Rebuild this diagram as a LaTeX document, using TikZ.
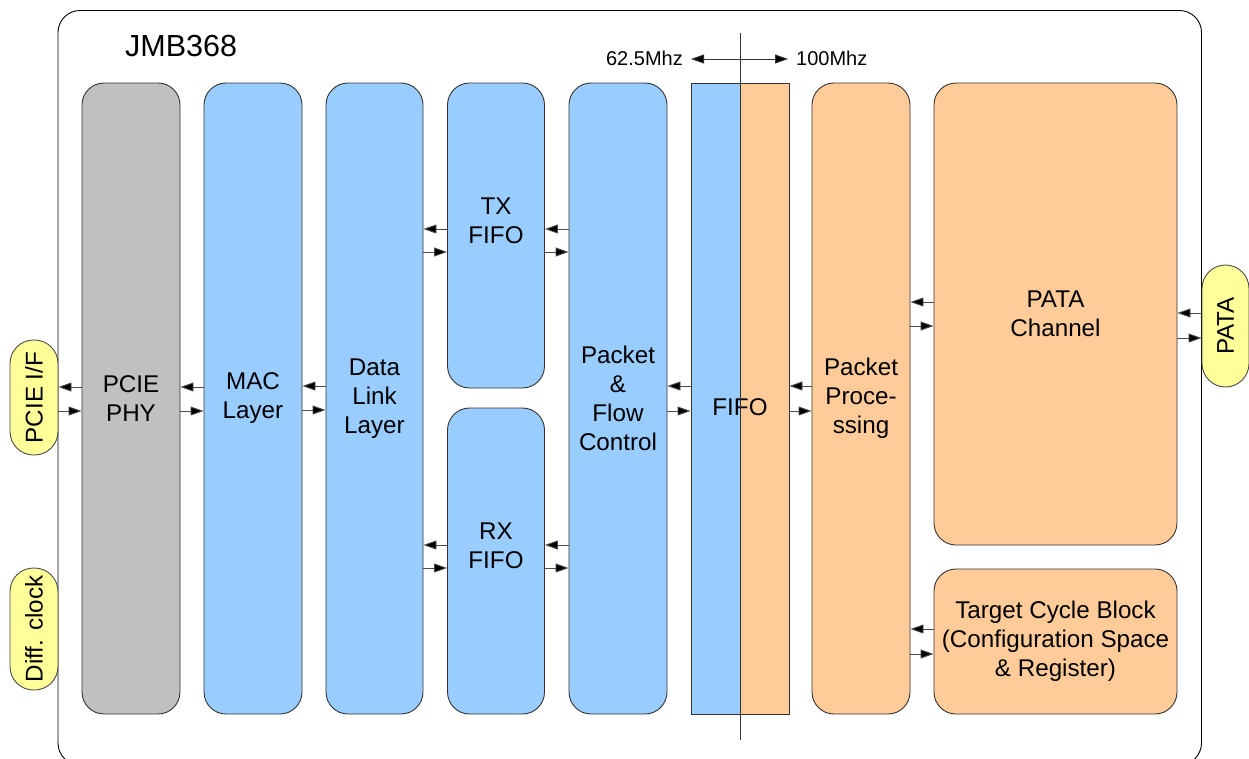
\documentclass[tikz,border=0pt]{standalone}
\usepackage{fontspec}
\setmainfont{Liberation Sans}
\usetikzlibrary{arrows.meta}
\definecolor{cgray}{HTML}{C0C0C0}
\definecolor{cblue}{HTML}{99CCFF}
\definecolor{corange}{HTML}{FFCC99}
\definecolor{cyellow}{HTML}{FFFF99}
\begin{document}
\begin{tikzpicture}[x=1pt,y=-1pt,
  blk/.style={draw=black!80, line width=0.9pt, rounded corners=22pt, inner sep=0pt, align=center,
    font=\fontsize{24.2}{29}\selectfont},
  sqblk/.style={draw=black!80, line width=0.9pt, inner sep=0pt},
  pill/.style={draw=black!70, fill=cyellow, rounded corners=23.5pt, inner sep=0pt, line width=0.9pt,
    rotate=90, font=\fontsize{24.2}{29}\selectfont},
  lbl/.style={inner sep=0pt, align=center, font=\fontsize{24.2}{29}\selectfont},
  arr/.style={-{Triangle[length=13pt,width=9pt,fill=black]}, draw=black!70, line width=0.9pt},
  darr/.style={{Triangle[length=13pt,width=9pt,fill=black]}-{Triangle[length=13pt,width=9pt,fill=black]}, draw=black!80, line width=0.9pt}
]
\useasboundingbox (0,0) rectangle (1249,758);
% frame
\draw[line width=0.9pt, rounded corners=22pt] (58,10.5) rectangle (1201.5,765);
\node[anchor=base west, inner sep=0pt, font=\fontsize{30.5}{36}\selectfont] (title) at (125,56) {JMB368};

% blocks
\node[blk, fill=cgray, minimum width=98pt, minimum height=631pt] (phy) at (131,398.5) {PCIE\\PHY};
\node[blk, fill=cblue, minimum width=98pt, minimum height=631pt] (mac) at (253,398.5) {MAC\\Layer};
\node[blk, fill=cblue, minimum width=97pt, minimum height=631pt] (dll) at (374.5,398.5) {Data\\Link\\Layer};
\node[blk, fill=cblue, minimum width=97pt, minimum height=305pt] (tx) at (496,235.5) {};
\node[lbl] (txt) at (496,221) {TX\\FIFO};
\node[blk, fill=cblue, minimum width=97pt, minimum height=306pt] (rx) at (496,561) {};
\node[lbl] (rxt) at (496,546) {RX\\FIFO};
\node[blk, fill=cblue, minimum width=98pt, minimum height=631pt] (pkt) at (618,398.5) {Packet\\\&\\Flow\\Control};
\node[sqblk, fill=cblue, minimum width=49pt, minimum height=631pt] (fifol) at (715.5,398.5) {};
\node[sqblk, fill=corange, minimum width=49pt, minimum height=631pt] (fifor) at (764.5,398.5) {};
\node[lbl] (fifot) at (740,407) {FIFO};
\node[blk, fill=corange, minimum width=98pt, minimum height=631pt] (proc) at (861,398.5) {Packet\\Proce-\\ssing};
\node[blk, fill=corange, minimum width=243pt, minimum height=462pt] (patach) at (1055.5,314) {PATA\\Channel};
\node[blk, fill=corange, minimum width=243pt, minimum height=145pt] (tcb) at (1055.5,641.5) {Target Cycle Block\\(Configuration Space\\\& Register)};

% pills
\node[pill, minimum width=115pt, minimum height=48pt] (pcie) at (34,397.5) {PCIE I/F};
\node[pill, minimum width=122pt, minimum height=48pt] (diff) at (34,629) {Diff. clock};
\node[pill, minimum width=122pt, minimum height=47pt] (pata) at (1225.5,326) {PATA};

% clock domain
\coordinate (vtop) at (740,33);
\coordinate (vbot) at (740,740);
\draw[line width=0.9pt, draw=black!80] (vtop) -- (vbot);
\coordinate (fl) at (691,59);
\coordinate (fr) at (788,59);
\draw[darr] (fl) -- (fr);
\node[anchor=base east, inner sep=0pt, font=\fontsize{20}{24}\selectfont] (f1) at (683,65) {62.5Mhz};
\node[anchor=base west, inner sep=0pt, font=\fontsize{20}{24}\selectfont] (f2) at (796,65) {100Mhz};

% connectors
\draw[arr] (phy.west |- 0,387) -- (pcie.south |- 0,387);
\draw[arr] (pcie.south |- 0,411) -- (phy.west |- 0,411);
\draw[arr] (mac.west |- 0,387) -- (phy.east |- 0,387);
\draw[arr] (phy.east |- 0,411) -- (mac.west |- 0,411);
\draw[arr] (dll.west |- 0,386) -- (mac.east |- 0,386);
\draw[arr] (mac.east |- 0,410) -- (dll.west |- 0,410);

\draw[arr] (tx.west |- 0,229) -- (dll.east |- 0,229);
\draw[arr] (dll.east |- 0,252) -- (tx.west |- 0,252);
\draw[arr] (pkt.west |- 0,229) -- (tx.east |- 0,229);
\draw[arr] (tx.east |- 0,252) -- (pkt.west |- 0,252);

\draw[arr] (rx.west |- 0,545) -- (dll.east |- 0,545);
\draw[arr] (dll.east |- 0,568) -- (rx.west |- 0,568);
\draw[arr] (pkt.west |- 0,545) -- (rx.east |- 0,545);
\draw[arr] (rx.east |- 0,568) -- (pkt.west |- 0,568);

\draw[arr] (fifol.west |- 0,386) -- (pkt.east |- 0,386);
\draw[arr] (pkt.east |- 0,411) -- (fifol.west |- 0,411);
\draw[arr] (proc.west |- 0,386) -- (fifor.east |- 0,386);
\draw[arr] (fifor.east |- 0,411) -- (proc.west |- 0,411);

\draw[arr] (patach.west |- 0,302) -- (proc.east |- 0,302);
\draw[arr] (proc.east |- 0,326) -- (patach.west |- 0,326);
\draw[arr] (pata.north |- 0,313) -- (patach.east |- 0,313);
\draw[arr] (patach.east |- 0,338) -- (pata.north |- 0,338);

\draw[arr] (tcb.west |- 0,629) -- (proc.east |- 0,629);
\draw[arr] (proc.east |- 0,654) -- (tcb.west |- 0,654);
\end{tikzpicture}
\end{document}
